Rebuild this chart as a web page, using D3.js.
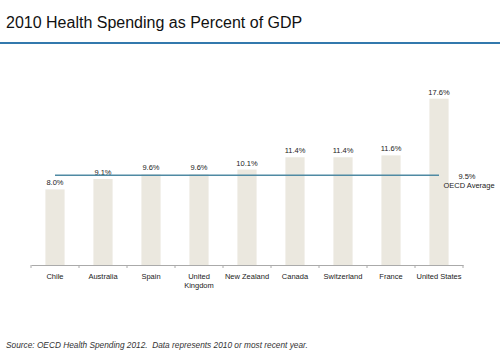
<!DOCTYPE html>
<html>
<head>
<meta charset="utf-8">
<script src="https://cdn.jsdelivr.net/npm/d3@7"></script>
<style>
  body { margin: 0; background: #fff; }
  svg { font-family: "Liberation Sans", Arial, sans-serif; }
</style>
</head>
<body>
<svg width="500" height="354"></svg>
<script>
var countries = ["Chile", "Australia", "Spain", "United Kingdom", "New Zealand", "Canada", "Switzerland", "France", "United States"];
var spending = [8.0, 9.1, 9.6, 9.6, 10.1, 11.4, 11.4, 11.6, 17.6];
var oecdAverage = 9.5;
var titleText = "2010 Health Spending as Percent of GDP";
var sourceText = "Source: OECD Health Spending 2012.  Data represents 2010 or most recent year.";

var svg = d3.select("svg"),
    width = 500,
    height = 354;

var data = countries.map(function(c, i) { return { name: c, value: spending[i] }; });

var x = d3.scaleBand()
    .domain(countries)
    .range([31, 463])
    .paddingInner(0.6)
    .paddingOuter(0.3);

var y = d3.scaleLinear()
    .domain([0, 20])
    .range([265, 76]);

// title + rule
svg.append("text")
    .attr("x", 6)
    .attr("y", 28)
    .attr("font-size", 16)
    .attr("fill", "#111")
    .text(titleText);

svg.append("rect")
    .attr("x", 0)
    .attr("y", 42)
    .attr("width", width)
    .attr("height", 2)
    .attr("fill", "#3279ad");

// bars
var g = svg.append("g");

g.selectAll("rect.bar")
    .data(data)
    .join("rect")
    .attr("class", "bar")
    .attr("x", d => x(d.name))
    .attr("y", d => y(d.value))
    .attr("width", x.bandwidth())
    .attr("height", d => y(0) - y(d.value))
    .attr("fill", "#ebe8df");

g.selectAll("text.val")
    .data(data)
    .join("text")
    .attr("class", "val")
    .attr("x", d => x(d.name) + x.bandwidth() / 2)
    .attr("y", d => y(d.value) - 4)
    .attr("text-anchor", "middle")
    .attr("font-size", 7.5)
    .attr("fill", "#222")
    .text(d => d.value.toFixed(1) + "%");

// x axis
var xAxis = d3.axisBottom(x).tickSize(0).tickFormat("");
var axisG = svg.append("g")
    .attr("transform", "translate(0," + y(0) + ")")
    .call(xAxis);
axisG.select(".domain").attr("stroke", "#aaa");

// boundary ticks
var bounds = countries.map(c => x(c) - x.step() * x.paddingInner() / 2);
bounds.push(x.range()[1]);
axisG.selectAll("line.bound")
    .data(bounds)
    .join("line")
    .attr("class", "bound")
    .attr("x1", d => d).attr("x2", d => d)
    .attr("y1", 0).attr("y2", 3)
    .attr("stroke", "#aaa");

// category labels
var labels = axisG.selectAll("text.cat")
    .data(countries)
    .join("text")
    .attr("class", "cat")
    .attr("text-anchor", "middle")
    .attr("font-size", 7.5)
    .attr("fill", "#222");

labels.each(function(d) {
    var t = d3.select(this);
    var lines = d === "United Kingdom" ? ["United", "Kingdom"] : [d];
    lines.forEach(function(l, i) {
        t.append("tspan")
            .attr("x", x(d) + x.bandwidth() / 2)
            .attr("y", 14 + i * 8.5)
            .text(l);
    });
});

// OECD average line
var first = countries[0], last = countries[countries.length - 1];
svg.append("line")
    .attr("x1", x(first) + x.bandwidth() / 2)
    .attr("x2", x(last) + x.bandwidth() / 2)
    .attr("y1", y(oecdAverage))
    .attr("y2", y(oecdAverage))
    .attr("stroke", "#4f8aa3")
    .attr("stroke-width", 1.3);

svg.append("text")
    .attr("x", 467)
    .attr("y", y(oecdAverage) + 4)
    .attr("text-anchor", "middle")
    .attr("font-size", 7.5)
    .attr("fill", "#222")
    .text(oecdAverage.toFixed(1) + "%");

svg.append("text")
    .attr("x", 469)
    .attr("y", y(oecdAverage) + 13)
    .attr("text-anchor", "middle")
    .attr("font-size", 7.5)
    .attr("fill", "#222")
    .text("OECD Average");

// source
svg.append("text")
    .attr("x", 6)
    .attr("y", 348)
    .attr("font-size", 8.3)
    .attr("font-style", "italic")
    .attr("fill", "#333")
    .style("white-space", "pre")
    .text(sourceText);
</script>
</body>
</html>
